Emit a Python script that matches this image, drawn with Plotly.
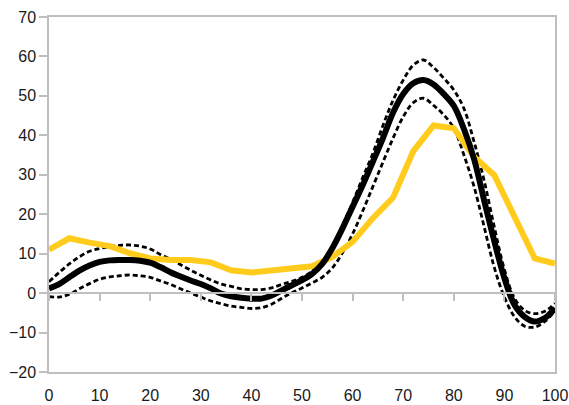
import plotly.graph_objects as go

# x positions (percent of cycle)
x_black = list(range(0, 101, 2))
x_yellow = list(range(0, 101, 4))

mean_vals = [1.2, 2.3, 4.0, 5.7, 7.0, 7.9, 8.3, 8.4, 8.4, 8.2,
             7.7, 6.6, 5.3, 4.2, 3.2, 2.3, 1.2, -0.1, -0.8, -1.2,
             -1.4, -1.4, -0.6, 0.7, 2.0, 3.3, 4.9, 7.4, 11.4, 16.4,
             21.9, 27.4, 33.3, 39.3, 45.8, 50.5, 53.2, 54.0, 52.9, 50.5,
             47.5, 41.6, 34.0, 23.5, 13.2, 3.8, -3.0, -6.0, -7.2, -6.3,
             -3.8]

upper_vals = [2.9, 5.2, 7.4, 9.2, 10.6, 11.3, 11.8, 12.1, 12.2, 11.9,
              11.2, 9.8, 8.6, 7.2, 5.8, 4.5, 3.3, 2.3, 1.7, 1.1,
              0.9, 0.9, 1.3, 2.2, 3.0, 4.0, 5.6, 8.0, 11.8, 17.2,
              23.0, 29.3, 35.4, 42.5, 48.9, 54.0, 57.8, 59.1, 57.2, 54.5,
              51.5, 46.8, 38.4, 28.5, 16.8, 6.0, -1.3, -4.4, -5.2, -4.6,
              -2.6]

lower_vals = [-0.9, -1.0, -0.3, 1.1, 2.4, 3.5, 4.1, 4.4, 4.6, 4.4,
              4.0, 3.1, 2.2, 1.1, 0.0, -1.0, -2.0, -2.7, -3.3, -3.6,
              -3.9, -3.7, -2.8, -1.3, 0.1, 1.3, 2.6, 4.0, 6.4, 10.2,
              15.0, 20.8, 27.0, 33.2, 39.3, 44.7, 48.3, 49.4, 47.6, 45.2,
              41.8, 35.0, 27.0, 16.8, 6.5, -1.0, -6.0, -8.4, -8.6, -7.2,
              -4.5]

yellow_vals = [11.0, 13.9, 12.8, 11.9, 10.1, 8.8, 8.4, 8.4, 7.8, 5.8,
               5.2, 5.8, 6.5, 6.8, 9.2, 13.0, 19.0, 24.2, 36.0, 42.5,
               41.8, 34.6, 29.9, 19.3, 8.8, 7.5]

x_ticks = list(range(0, 101, 10))
y_ticks = list(range(-20, 71, 10))

AXIS_GRAY = "#BFBFBF"
TEXT = "#1a1a1a"

fig = go.Figure()

dash_line = dict(color="black", width=2.8, dash="5px,3px", shape="spline")
fig.add_trace(go.Scatter(x=x_black, y=lower_vals, mode="lines", line=dash_line,
                         showlegend=False, hoverinfo="skip"))
fig.add_trace(go.Scatter(x=x_black, y=upper_vals, mode="lines", line=dash_line,
                         showlegend=False, hoverinfo="skip"))
fig.add_trace(go.Scatter(x=x_yellow, y=yellow_vals, mode="lines",
                         line=dict(color="#FFCC1E", width=6),
                         showlegend=False, hoverinfo="skip"))
fig.add_trace(go.Scatter(x=x_black, y=mean_vals, mode="lines",
                         line=dict(color="black", width=6, shape="spline"),
                         showlegend=False, hoverinfo="skip"))
# invisible trace to carry the zero-crossing axis
fig.add_trace(go.Scatter(x=[0, 100], y=[0, 0], mode="lines", xaxis="x2",
                         line=dict(color="rgba(0,0,0,0)", width=0),
                         showlegend=False, hoverinfo="skip"))

fig.update_layout(
    width=569, height=405,
    margin=dict(l=49, r=14, t=17, b=33),
    paper_bgcolor="white", plot_bgcolor="white",
    font=dict(family="Liberation Sans, Arial, sans-serif", size=16, color=TEXT),
    xaxis=dict(range=[0, 100], tickvals=x_ticks, showgrid=False, zeroline=False,
               showline=True, linecolor=AXIS_GRAY, linewidth=1.5, mirror=True,
               ticks="outside", ticklen=8, tickcolor="rgba(0,0,0,0)",
               ticklabeloverflow="allow", automargin=False),
    xaxis2=dict(range=[0, 100], overlaying="x", anchor="free", position=20/90,
                tickvals=x_ticks, showgrid=False, zeroline=False,
                showline=True, linecolor=AXIS_GRAY, linewidth=1.5,
                ticks="outside", ticklen=7, tickcolor=AXIS_GRAY, tickwidth=1.5,
                showticklabels=False, side="bottom", automargin=False),
    yaxis=dict(range=[-20, 70], tickvals=y_ticks, showgrid=False, zeroline=False,
               showline=True, linecolor=AXIS_GRAY, linewidth=1.5, mirror=True,
               ticks="outside", ticklen=8, tickcolor=AXIS_GRAY, tickwidth=1.5,
               automargin=False),
)

fig.write_html("out.html")
